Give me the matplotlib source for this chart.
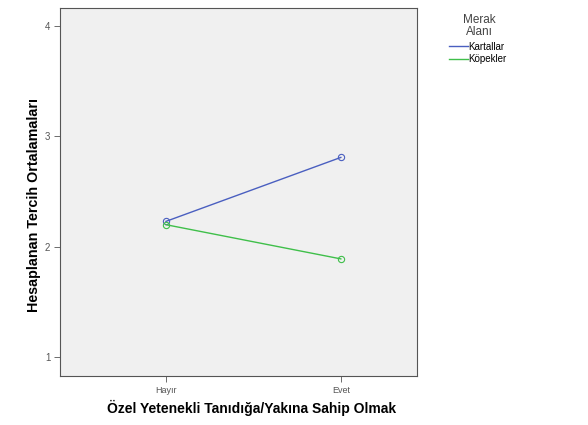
import matplotlib
matplotlib.use("Agg")
import matplotlib.pyplot as plt
from matplotlib.lines import Line2D

plt.rcParams['font.family'] = ['Liberation Sans', 'DejaVu Sans']

# Veriler
kategoriler = ["Hayır", "Evet"]
kartallar = [2.23, 2.81]
kopekler = [2.20, 1.89]
y_ticks = [1, 2, 3, 4]

fig = plt.figure(figsize=(5.88, 4.25), dpi=100)
ax = fig.add_axes([0.102, 0.115, 0.607, 0.866])
ax.set_facecolor("#f0f0f0")

x = range(len(kategoriler))
ax.plot(x, kartallar, color="#4a5fc0", lw=1, marker="o", ms=4.5,
        mfc="none", mec="#4a5fc0", mew=0.8)
ax.plot(x, kopekler, color="#3fbf4a", lw=1, marker="o", ms=4.5,
        mfc="none", mec="#3fbf4a", mew=0.8)

ax.set_xlim(-0.606, 1.435)
ax.set_ylim(0.827, 4.164)
ax.set_xticks(list(x))
ax.set_xticklabels(kategoriler, fontsize=6.5, color="#555555")
ax.set_yticks(y_ticks)
ax.set_yticklabels([str(v) for v in y_ticks], fontsize=7, color="#555555")
ax.tick_params(axis="x", length=4, width=0.6, color="#555555", pad=3)
ax.tick_params(axis="y", length=4, width=0.6, color="#555555", pad=3)
for s in ax.spines.values():
    s.set_color("#555555")
    s.set_linewidth(0.8)

ax.set_ylabel("Hesaplanan Tercih Ortalamaları", fontsize=10.3, fontweight="bold", labelpad=3)
ax.set_xlabel("Özel Yetenekli Tanıdığa/Yakına Sahip Olmak", fontsize=10,
              fontweight="bold", labelpad=4)
ax.xaxis.label.set_x(0.538)
ax.yaxis.label.set_y(0.465)

# Lejant
fig.text(0.815, 0.968, "Merak\nAlanı", fontsize=8.5, color="#444444",
         ha="center", va="top", linespacing=1.0)
handles = [Line2D([0], [0], color="#4a5fc0", lw=1),
           Line2D([0], [0], color="#3fbf4a", lw=1)]
fig.legend(handles, ["Kartallar", "Köpekler"], loc="upper left",
           bbox_to_anchor=(0.764, 0.902), frameon=False, fontsize=7,
           handlelength=1.9, handletextpad=0.1, labelspacing=0.25,
           borderpad=0, borderaxespad=0)

fig.savefig("out.png", dpi=100)
